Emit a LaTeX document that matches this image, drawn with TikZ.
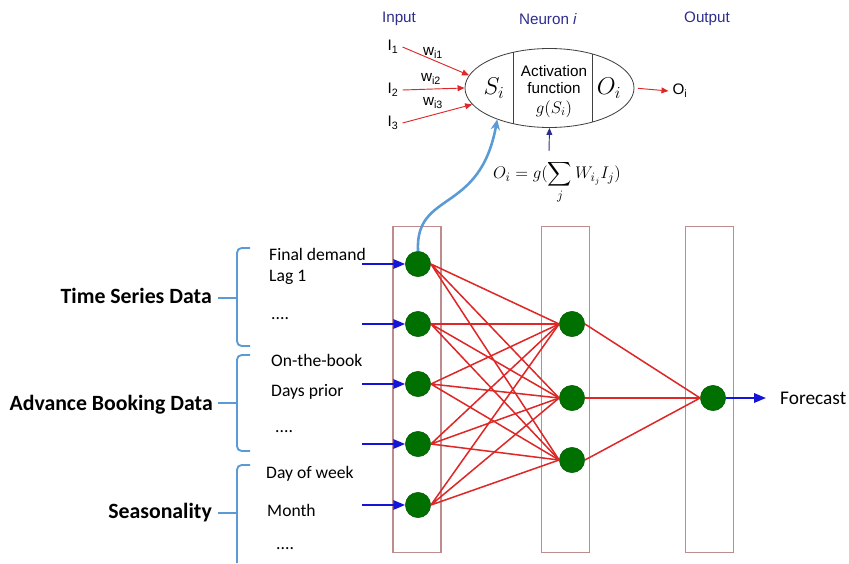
\documentclass[tikz,border=0pt]{standalone}
\usepackage{amsmath}
\usepackage{fontspec}
\setmainfont{Carlito}
\newfontfamily\arialfont{Liberation Sans}
\usetikzlibrary{shapes.geometric, arrows.meta, positioning}
\definecolor{layerborder}{RGB}{190,140,140}
\definecolor{unitgreen}{RGB}{0,112,0}
\definecolor{linkred}{RGB}{222,40,40}
\definecolor{feedblue}{RGB}{20,20,215}
\definecolor{bracket}{RGB}{91,155,213}
\definecolor{headblue}{RGB}{45,45,140}
\tikzset{
	layer/.style={
		rectangle, 
		minimum width=1.44cm, 
		minimum height=9.78cm, 
		draw=layerborder, 
		line width=0.9pt
	},
	unit/.style={
		circle, 
		minimum size=0.76cm, 
		inner sep=0pt, 
		draw=unitgreen!80!black, 
		fill=unitgreen
	},
	link/.style={draw=linkred, line width=1.3pt},
	feed/.style={draw=feedblue, line width=1.4pt, -{Triangle[length=10pt,width=8pt]}},
	brace/.style={draw=bracket, line width=1.6pt, rounded corners=4pt},
	itemtext/.style={anchor=base west, inner sep=0pt, font=\fontsize{15}{18}\selectfont},
	grouptext/.style={anchor=base east, inner sep=0pt, font=\bfseries\fontsize{18.6}{21}\selectfont},
	headtext/.style={text=headblue, font=\arialfont\fontsize{13}{15}\selectfont},
	celltext/.style={font=\arialfont\fontsize{13}{15}\selectfont},
	small/.style={font=\arialfont\fontsize{13}{15}\selectfont},
	weight/.style={draw=linkred, line width=0.8pt, -{Triangle[length=6pt,width=5pt]}}
}

\begin{document}
\begin{tikzpicture}[x=0.03cm, y=-0.03cm]
	\useasboundingbox (0,0) rectangle (849,563);

	% single neuron
	\node (neuron) [ellipse, draw=black!75, line width=0.7pt, minimum width=5.07cm, minimum height=2.37cm, inner sep=0pt] at (549.5,88) {};
	\draw [black!75, line width=0.7pt] (513,52.4) -- (513,123.6);
	\draw [black!75, line width=0.7pt] (592,54) -- (592,122);
	\node (si) [font=\fontsize{21}{24}\selectfont] at (494,88) {$S_i$};
	\node (act) [celltext] at (554,71) {Activation};
	\node (fun) [celltext] at (554,88) {function};
	\node (gs) [font=\fontsize{14}{16}\selectfont] at (554,109) {$g(S_i)$};
	\node (oi) [font=\fontsize{21}{24}\selectfont] at (609,88) {$O_i$};

	\node (lblin) [headtext] at (399,19) {Input};
	\node (lblneuron) [headtext] at (548,19) {Neuron \textit{i}};
	\node (lblout) [headtext] at (707,19) {Output};

	\node (ii1) [small] at (393,47) {I\textsubscript{1}};
	\node (ii2) [small] at (393,90) {I\textsubscript{2}};
	\node (ii3) [small] at (393,123) {I\textsubscript{3}};
	\node (w1) [small] at (433,53) {w\textsubscript{i1}};
	\node (w2) [small] at (431,79) {w\textsubscript{i2}};
	\node (w3) [small] at (433,103) {w\textsubscript{i3}};
	\node (oiout) [small] at (680,91) {O\textsubscript{i}};

	\draw [weight] (ii1.east) -- (neuron.171);
	\draw [weight] (ii2.east) -- (neuron.west);
	\draw [weight] (ii3.east) -- (neuron.192);
	\draw [weight, shorten <=3pt] (neuron.east) -- (oiout.west);

	\node (formula) [font=\fontsize{15}{18}\selectfont] at (557,182) {$O_i = g(\displaystyle\sum_j W_{i_j} I_j)$};
	\coordinate (drive) at (549,151);
	\draw [draw=headblue, line width=0.8pt, -{Triangle[length=6pt,width=5pt]}] (drive) -- (neuron.south);

	% layers of the network
	\node (inlayer) [layer] at (417,389.5) {};
	\node (hidlayer) [layer] at (565.5,389.5) {};
	\node (outlayer) [layer] at (709.5,389.5) {};

	\node (in1) [unit] at (418,264) {};
	\node (in2) [unit] at (418,324) {};
	\node (in3) [unit] at (418,384) {};
	\node (in4) [unit] at (418,444) {};
	\node (in5) [unit] at (418,505) {};
	\node (h1) [unit] at (572,324) {};
	\node (h2) [unit] at (572,398) {};
	\node (h3) [unit] at (572,460) {};
	\node (out) [unit] at (713,398) {};

	\draw [link] (in1.east) -- (h1.west) (in1.east) -- (h2.west) (in1.east) -- (h3.west);
	\draw [link] (in2.east) -- (h1.west) (in2.east) -- (h2.west) (in2.east) -- (h3.west);
	\draw [link] (in3.east) -- (h1.west) (in3.east) -- (h2.west) (in3.east) -- (h3.west);
	\draw [link] (in4.east) -- (h1.west) (in4.east) -- (h2.west) (in4.east) -- (h3.west);
	\draw [link] (in5.east) -- (h1.west) (in5.east) -- (h2.west) (in5.east) -- (h3.west);
	\draw [link] (h1.east) -- (out.west) (h2.east) -- (out.west) (h3.east) -- (out.west);

	% link from the first input unit up to the neuron
	\draw [draw=bracket, line width=2.2pt, -{Stealth[length=9pt,width=8pt]}] (in1.north) .. controls (415,190) and (480,215) .. (neuron.211);

	% inputs
	\coordinate (src1) at (362,264);
	\coordinate (src2) at (362,324);
	\coordinate (src3) at (362,384);
	\coordinate (src4) at (362,444);
	\coordinate (src5) at (362,505);
	\draw [feed] (src1) -- (in1);
	\draw [feed] (src2) -- (in2);
	\draw [feed] (src3) -- (in3);
	\draw [feed] (src4) -- (in4);
	\draw [feed] (src5) -- (in5);

	\node (forecast) [itemtext, anchor=west, font=\fontsize{16.5}{19}\selectfont] at (780,398) {Forecast};
	\draw [feed, shorten >=12pt] (out) -- (forecast.west);

	\node (fd) [itemtext] at (269,260) {Final demand};
	\node (lag) [itemtext] at (269,281) {Lag 1};
	\node (dots1) [itemtext] at (271,319) {....};
	\node (otb) [itemtext] at (271,366) {On-the-book};
	\node (dp) [itemtext] at (271,396) {Days prior};
	\node (dots2) [itemtext] at (275,432) {....};
	\node (dow) [itemtext] at (266,478) {Day of week};
	\node (month) [itemtext] at (267,516) {Month};
	\node (dots3) [itemtext] at (276,549) {....};

	% groups of inputs
	\node (grp1) [grouptext] at (212,303) {Time Series Data};
	\node (grp2) [grouptext] at (213,410) {Advance Booking Data};
	\node (grp3) [grouptext] at (212,518) {Seasonality};

	\draw [brace] (250,248) -- (237,248) -- (237,346) -- (250,346);
	\draw [brace] (250,355) -- (237,355) -- (237,451) -- (250,451);
	\draw [brace] (250,465) -- (237,465) -- (237,563);
	\draw [brace] (237,298) -- (218,298);
	\draw [brace] (237,403) -- (218,403);
	\draw [brace] (237,513) -- (218,513);
\end{tikzpicture}
\end{document}
